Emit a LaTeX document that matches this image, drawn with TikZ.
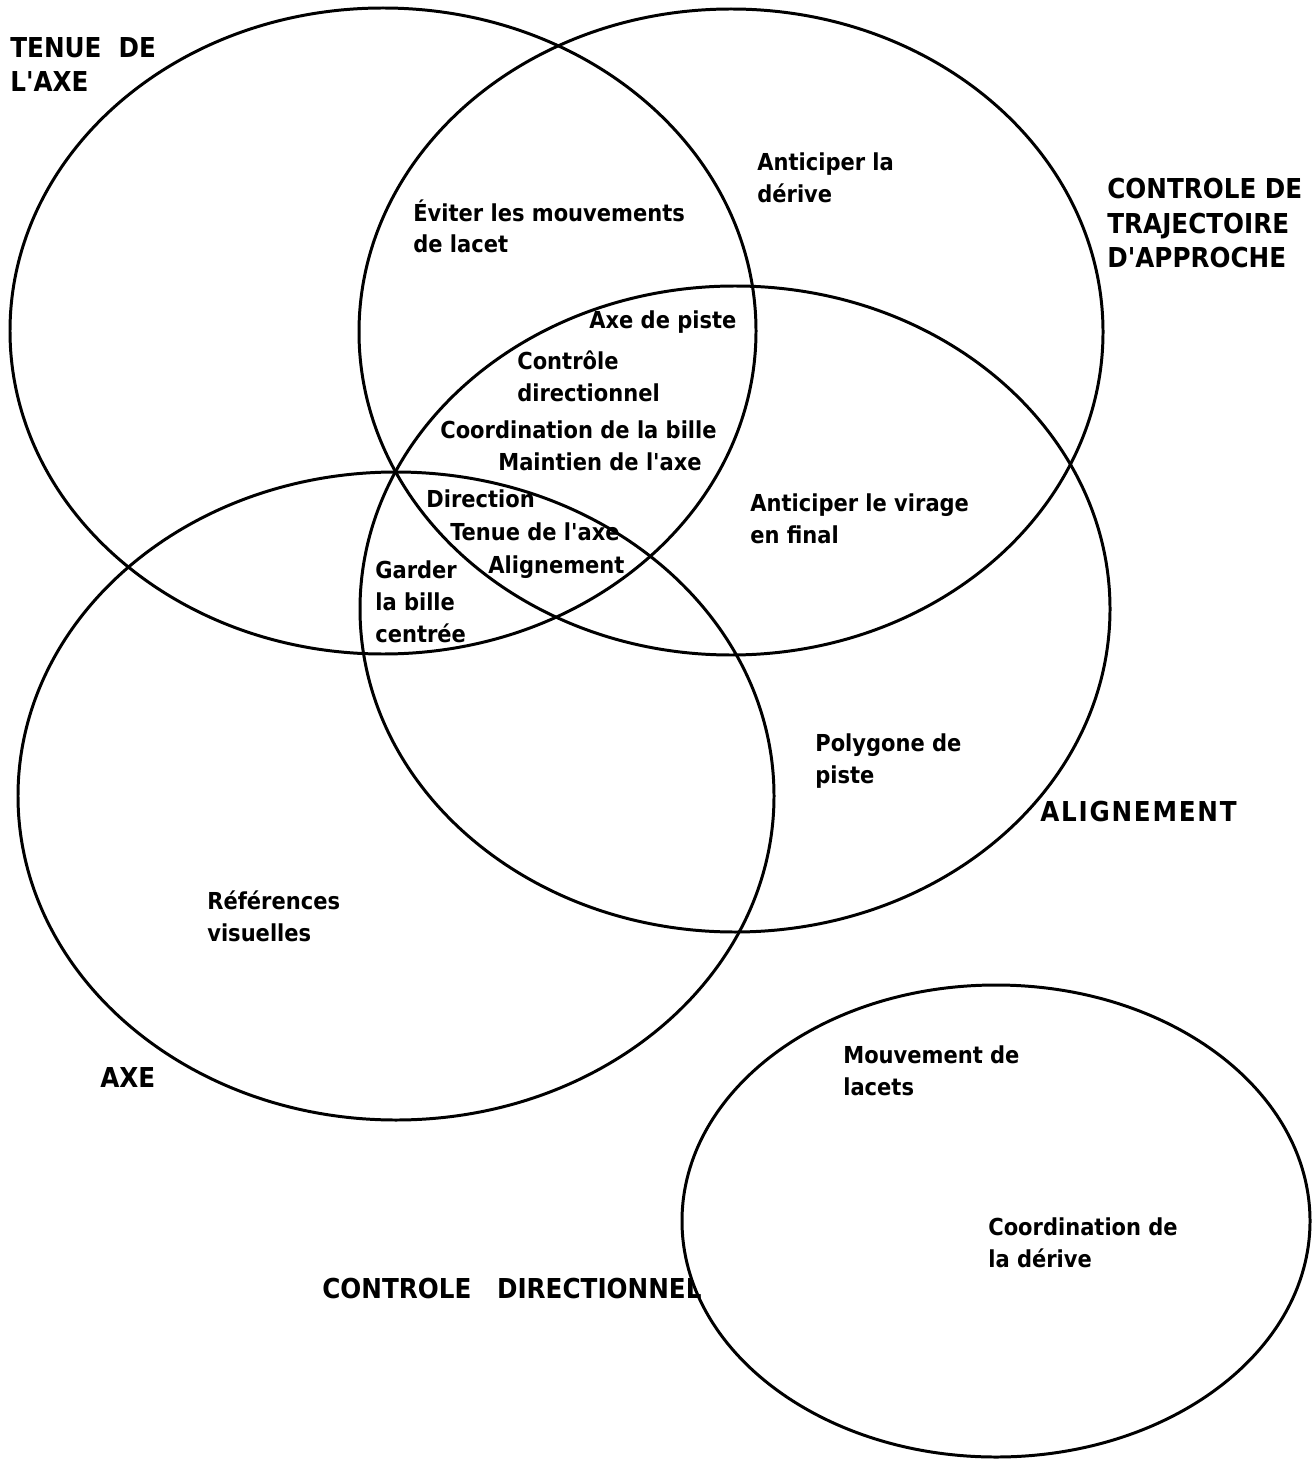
\documentclass[tikz,border=0pt]{standalone}
\usepackage{fontspec}
\newfontfamily\heavy{DejaVu Sans Condensed}
\begin{document}
\begin{tikzpicture}[x=0.02cm,y=-0.02cm,
  set/.style={line width=1.7pt},
  lbl/.style={anchor=north west, inner sep=0pt, align=left,
              font=\heavy\bfseries\fontsize{13.3}{18.2}\selectfont},
  ttl/.style={anchor=north west, inner sep=0pt, align=left,
              font=\heavy\bfseries\fontsize{15.6}{19.6}\selectfont}]
\useasboundingbox (0,0) rectangle (1311,1459);
\fill[white] (0,0) rectangle (1311,1459);

% centres of the five sets
\coordinate (cTenue)  at (383,331);
\coordinate (cTraj)   at (731,332);
\coordinate (cAlign)  at (735,609);
\coordinate (cAxe)    at (396,796);
\coordinate (cDir)    at (996,1221);

\draw[set] (cTenue) ellipse [x radius=373, y radius=323];
\draw[set] (cTraj)  ellipse [x radius=372, y radius=323];
\draw[set] (cAlign) ellipse [x radius=375, y radius=323];
\draw[set] (cAxe)   ellipse [x radius=378, y radius=324];
\draw[set] (cDir)   ellipse [x radius=314, y radius=236];

% set titles
\node[ttl] (tTenue) at (10,37)   {TENUE\ \ DE\\L'AXE};
\node[ttl] (tTraj)  at (1107,178) {CONTROLE DE\\TRAJECTOIRE\\D'APPROCHE};
\node[ttl] (tAlign) at (1040,801) {A\kern1ptL\kern1ptI\kern1ptG\kern1ptN\kern1ptE\kern1ptM\kern1ptE\kern1ptN\kern1ptT};
\node[ttl] (tAxe)   at (100,1067) {AXE};
\node[ttl] (tDir)   at (322,1278) {CONTROLE\ \ \ DIRECTIONNEL};

% items
\node[lbl] (i1)  at (757,152)  {Anticiper la\\dérive};
\node[lbl] (i2)  at (413,199)  {Éviter les mouvements\\de lacet};
\node[lbl] (i3)  at (589,310)  {Axe de piste};
\node[lbl] (i4)  at (517,350)  {Contrôle\\directionnel};
\node[lbl] (i5)  at (440,420)  {Coordination de la bille};
\node[lbl] (i6)  at (498,452)  {Maintien de l'axe};
\node[lbl] (i7)  at (426,489)  {Direction};
\node[lbl] (i8)  at (450,522)  {Tenue de l'axe};
\node[lbl] (i9)  at (488,555)  {Alignement};
\node[lbl] (i10) at (375,560)  {Garder\\la bille\\centrée};
\node[lbl] (i11) at (750,493)  {Anticiper le virage\\en final};
\node[lbl] (i12) at (815,733)  {Polygone de\\piste};
\node[lbl] (i13) at (207,890)  {Références\\visuelles};
\node[lbl] (i14) at (843,1045) {Mouvement de\\lacets};
\node[lbl] (i15) at (988,1217) {Coordination de\\la dérive};
\end{tikzpicture}
\end{document}
